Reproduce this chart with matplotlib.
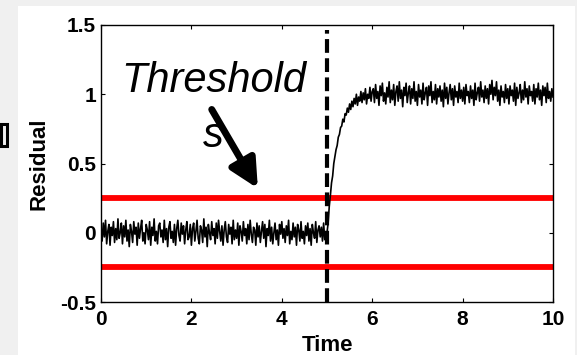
import numpy as np
import matplotlib
matplotlib.use("Agg")
import matplotlib.pyplot as plt
from matplotlib.patches import Rectangle

# residual before the fault (t = 0 .. 4.975, step 0.025)
resid_before = [
    0.02, -0.06, 0.07, -0.03, 0.09, -0.08, 0.01, 0.06, -0.09, 0.04, -0.02, 0.08, -0.07, 0.03, -0.05, 0.10, -0.04, 0.00, 0.07, -0.08,
    0.05, -0.03, 0.09, -0.06, 0.02, -0.10, 0.06, 0.01, -0.07, 0.08, -0.01, 0.04, -0.09, 0.07, -0.04, 0.03, 0.09, -0.06, 0.00, -0.08,
    0.06, 0.02, -0.05, 0.08, -0.09, 0.04, -0.02, 0.10, -0.06, 0.01, -0.08, 0.05, 0.07, -0.03, 0.02, -0.07, 0.09, -0.05, 0.03, -0.10,
    0.04, 0.08, -0.04, 0.01, -0.07, 0.06, -0.09, 0.03, 0.09, -0.02, -0.06, 0.07, -0.01, 0.05, -0.08, 0.02, 0.08, -0.05, -0.03, 0.06,
    -0.09, 0.03, 0.07, -0.06, 0.01, 0.09, -0.04, -0.08, 0.05, 0.02, -0.07, 0.10, -0.03, 0.04, -0.10, 0.06, 0.00, -0.05, 0.08, -0.02,
    0.03, -0.08, 0.07, -0.04, 0.09, 0.01, -0.06, 0.05, -0.09, 0.02, 0.08, -0.03, -0.07, 0.06, -0.01, 0.04, -0.08, 0.09, -0.05, 0.02,
    -0.04, 0.07, -0.09, 0.05, 0.01, -0.06, 0.08, -0.02, 0.03, -0.08, 0.06, -0.05, 0.09, -0.01, -0.07, 0.04, 0.02, -0.09, 0.07, -0.03,
    0.05, -0.07, 0.01, 0.08, -0.04, 0.06, -0.10, 0.03, -0.02, 0.09, -0.06, 0.04, -0.08, 0.00, 0.07, -0.05, 0.02, -0.09, 0.06, -0.01,
    0.08, -0.04, 0.03, -0.07, 0.05, -0.02, 0.09, -0.08, 0.01, -0.05, 0.07, -0.03, 0.04, -0.09, 0.06, 0.02, -0.06, 0.08, -0.04, 0.01,
    -0.08, 0.05, -0.02, 0.07, -0.06, 0.03, -0.09, 0.06, 0.00, -0.04, 0.08, -0.07, 0.02, 0.05, -0.03, 0.04, -0.06, 0.07, -0.05, -0.02,
]

# residual from the fault onward (t = 5.0 .. 10.0, step 0.025)
resid_after = [
    0.00, 0.07, 0.19, 0.27, 0.36, 0.41, 0.50, 0.55, 0.60, 0.63, 0.69, 0.71, 0.76, 0.77, 0.82, 0.80, 0.86, 0.85, 0.90, 0.87, 0.93,
    0.89, 0.95, 0.91, 0.97, 0.93, 1.00, 0.92, 0.98, 0.95, 1.02, 0.94, 1.01, 0.96, 1.04, 0.93, 1.00, 0.97, 1.05, 0.95, 1.02,
    1.04, 0.94, 1.07, 0.97, 1.02, 0.92, 1.06, 0.99, 1.08, 0.95, 1.01, 0.93, 1.05, 0.98, 1.09, 0.94, 1.03, 0.96, 1.07, 0.92,
    1.02, 1.06, 0.95, 1.09, 0.97, 1.03, 0.91, 1.05, 0.99, 1.08, 0.94, 1.01, 1.06, 0.93, 1.04, 0.97, 1.09, 0.95, 1.02, 0.92,
    1.07, 0.98, 1.03, 0.93, 1.08, 0.96, 1.01, 1.05, 0.92, 1.06, 0.99, 1.09, 0.94, 1.02, 0.96, 1.07, 0.93, 1.04, 0.98, 1.06,
    0.95, 1.03, 0.91, 1.08, 0.97, 1.05, 0.93, 1.01, 1.07, 0.96, 1.04, 0.92, 1.06, 0.98, 1.02, 0.94, 1.08, 0.97, 1.03, 0.95,
    1.05, 0.93, 1.07, 0.99, 1.02, 0.94, 1.06, 0.97, 1.03, 0.92, 1.08, 0.96, 1.01, 1.05, 0.95, 1.09, 0.98, 1.03, 0.94, 1.06,
    0.97, 1.04, 0.93, 1.07, 1.00, 1.10, 0.96, 1.05, 0.99, 1.09, 0.95, 1.03, 0.92, 1.06, 0.98, 1.02, 0.94, 1.07, 0.97, 1.04,
    0.93, 1.06, 0.99, 1.03, 0.95, 1.08, 0.92, 1.05, 0.97, 1.01, 1.07, 0.94, 1.03, 0.96, 1.09, 0.98, 1.04, 0.93, 1.06, 0.99,
    1.02, 0.95, 1.07, 0.93, 1.04, 0.98, 1.08, 0.96, 1.03, 0.92, 1.06, 0.99, 1.05, 0.94, 1.08, 0.97, 1.02, 0.95, 1.04, 0.98,
]

dt = 0.025
fault_time = 5.0
thresholds = [0.25, -0.25]
xticks = [0, 2, 4, 6, 8, 10]
yticks = [-0.5, 0, 0.5, 1, 1.5]
ytick_labels = ["-0.5", "0", "0.5", "1", "1.5"]

resid = np.array(resid_before + resid_after)
t = np.arange(len(resid)) * dt

plt.rcParams["font.family"] = ["Liberation Sans", "DejaVu Sans"]

fig = plt.figure(figsize=(5.77, 3.55), dpi=100, facecolor="#f0f0f0")
# white panel behind the axes
fig.patches.append(Rectangle((18 / 577, 0), (575 - 18) / 577, (355 - 6) / 355,
                             transform=fig.transFigure, facecolor="white",
                             edgecolor="none", zorder=-10))
# small boxed marker at the left edge
fig.patches.append(Rectangle((1 / 577, (355 - 146) / 355), 6 / 577, 22 / 355,
                             transform=fig.transFigure, facecolor="none",
                             edgecolor="black", linewidth=2.2, zorder=-5))

ax = fig.add_axes([101 / 577, 53 / 355, 452 / 577, 277 / 355])
ax.set_zorder(1)
ax.set_facecolor("white")

ax.plot(t, resid, color="black", lw=1.2, zorder=3)
for th in thresholds:
    ax.axhline(th, color="#ff0000", lw=4.2, zorder=2)
ax.axvline(fault_time, ymax=0.982, color="black", lw=3, dashes=(3.3, 1.3),
           zorder=4)

ax.text(2.5, 1.016, "Threshold", fontsize=30, style="italic",
        ha="center", va="baseline")
ax.text(2.48, 0.62, "s", fontsize=30, style="italic",
        ha="center", va="baseline")
ax.annotate("", xy=(3.47, 0.32), xytext=(2.45, 0.89),
            arrowprops=dict(arrowstyle="-|>,head_length=1.7,head_width=0.85",
                            color="black", lw=5, shrinkA=0, shrinkB=0))

ax.set_xlim(0, 10)
ax.set_ylim(-0.5, 1.5)
ax.set_xticks(xticks)
ax.set_yticks(yticks)
ax.set_yticklabels(ytick_labels)
ax.tick_params(direction="in", length=3, width=0.8, top=True, right=True,
               labelsize=15)
ax.tick_params(axis="x", pad=6)
ax.tick_params(axis="y", pad=3.5)
for lab in ax.get_xticklabels() + ax.get_yticklabels():
    lab.set_fontweight("bold")
for s in ax.spines.values():
    s.set_linewidth(1.0)

ax.set_xlabel("Time", fontsize=16, fontweight="bold")
ax.set_ylabel("Residual", fontsize=16, fontweight="bold")
ax.xaxis.set_label_coords(0.5, -0.118)
ax.yaxis.set_label_coords(-0.113, 0.5)

fig.savefig("out.png", dpi=100, facecolor=fig.get_facecolor())
